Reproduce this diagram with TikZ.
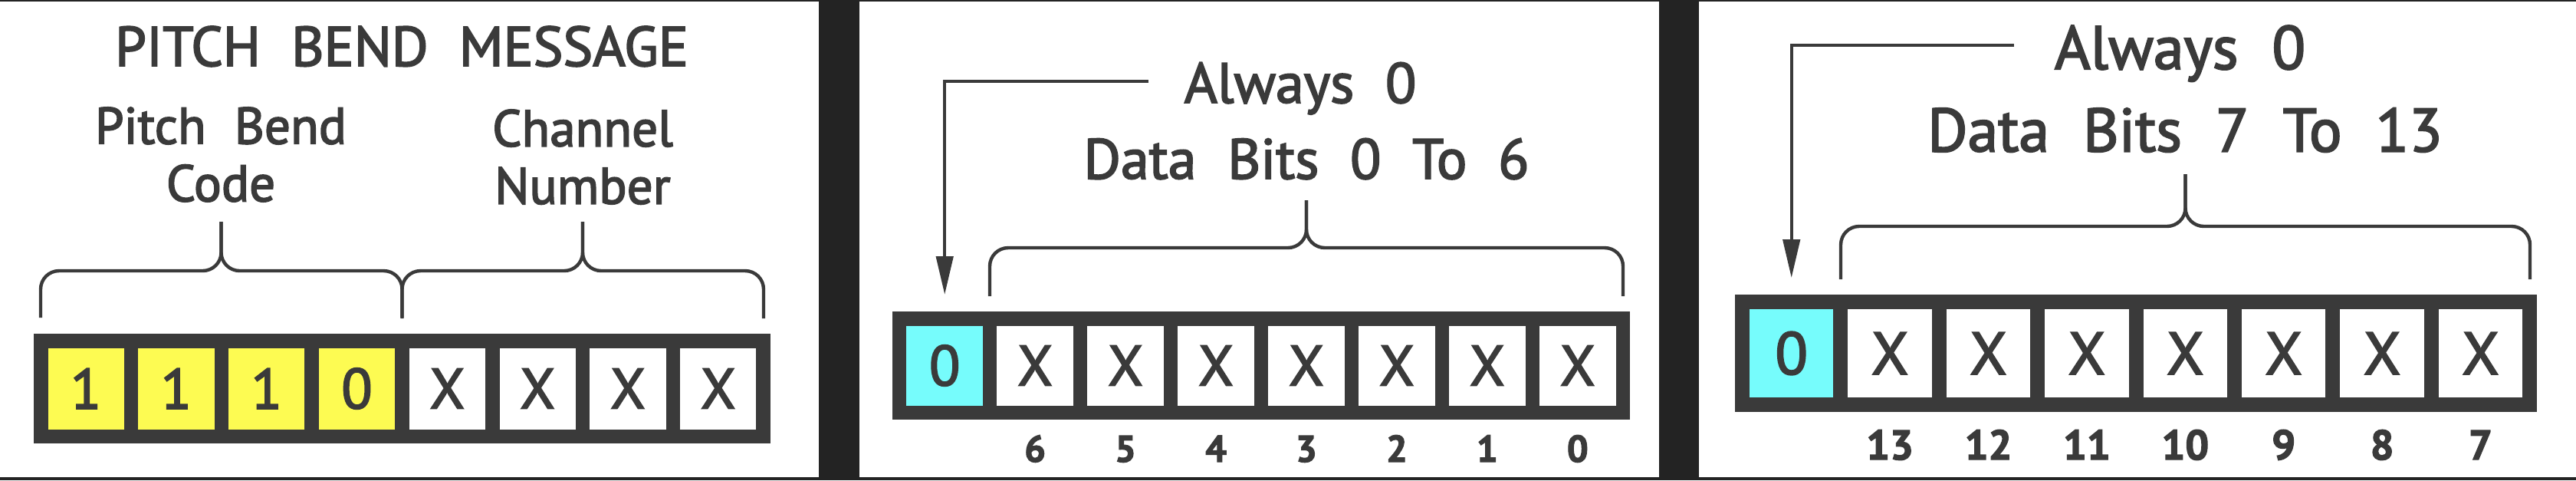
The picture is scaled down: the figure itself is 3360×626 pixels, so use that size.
\documentclass[tikz,border=0pt]{standalone}
\usepackage{fontspec}
\setmainfont{PT Sans}[FakeBold=2.5]
\usetikzlibrary{arrows.meta}

\definecolor{backdrop}{HTML}{232323}
\definecolor{ink}{HTML}{3A3A3A}
\definecolor{codefill}{HTML}{FDFB52}
\definecolor{zerofill}{HTML}{76FCFC}

% lettering: size, line skip, wide word gaps
\newcommand{\lettering}[2]{\fontsize{#1}{#2}\selectfont\spaceskip=0.55em plus 0.1em\relax}
% brace: left x, right x, tip x, leg bottom y, bar y, tip top y
\newcommand{\bitbrace}[6]{%
  \draw[bracket] (#1,#4) -- (#1,#5) -- (#3,#5) -- (#3,#6);
  \draw[bracket] (#3,#6) -- (#3,#5) -- (#2,#5) -- (#2,#4);}

\tikzset{
  lbl/.style={inner sep=0pt, text=ink, anchor=base},
  bitcell/.style={inner sep=0pt, text=ink, fill=white},
  bitno/.style={inner sep=0pt, text=ink, anchor=base},
  bracket/.style={draw=ink, line width=1.1pt, rounded corners=6pt},
  pointer/.style={draw=ink, line width=1.1pt, -{Triangle[length=12.5pt,width=5.5pt]}},
}

\begin{document}
\begin{tikzpicture}[x=0.25pt,y=0.25pt,yscale=-1,xscale=1]

%Shape: backdrop and the three panels
\fill[backdrop] (0,0) rectangle (3360,626);
\fill[white] (0,2) rectangle (1068,622);
\fill[white] (1121,2) rectangle (2164,622);
\fill[white] (2216,2) rectangle (3360,622);

%%%% Panel 1: pitch bend status byte
% Text Node
\node[lbl, font={\lettering{18.25pt}{20pt}}] (title) at (524,86) {PITCH BEND MESSAGE};
% Text Node
\node[lbl, anchor=north, align=center, font={\lettering{16.8pt}{18.75pt}}] (code) at (288,139) {Pitch Bend\\Code};
% Text Node
\node[lbl, anchor=north, align=center, font={\lettering{16.8pt}{18.75pt}}] (chan) at (760,142) {Channel\\Number};
%Shape: byte frame
\fill[ink] (44,435) rectangle (1005,578);
\foreach \k/\v/\f in {1/1/codefill,2/1/codefill,3/1/codefill,4/0/codefill,5/X/white,6/X/white,7/X/white,8/X/white}
  \node[bitcell, fill=\f, minimum width=24.8pt, minimum height=26.5pt, font={\lettering{18.5pt}{20pt}}] (p1c\k) at ({112.15+(\k-1)*117.8},506.5) {\v};
%Curve Lines: braces
\bitbrace{53}{524.5}{288.5}{414}{353}{289}
\bitbrace{524.5}{996}{760}{415}{353}{289}

%%%% Panel 2: first data byte
% Text Node
\node[lbl, font={\lettering{18.5pt}{20pt}}] (always2) at (1696,134) {Always 0};
% Text Node
\node[lbl, font={\lettering{18.5pt}{20pt}}] (bits2) at (1704,233) {Data Bits 0 To 6};
%Shape: byte frame
\fill[ink] (1164,406) rectangle (2126,547);
\foreach \k/\v/\f in {1/0/zerofill,2/X/white,3/X/white,4/X/white,5/X/white,6/X/white,7/X/white,8/X/white}
  \node[bitcell, fill=\f, minimum width=24.86pt, minimum height=26pt, font={\lettering{18.5pt}{20pt}}] (p2c\k) at ({1232.2+(\k-1)*117.94},476.5) {\v};
\foreach \k [evaluate=\k as \b using {int(8-\k)}] in {2,...,8}
  \node[bitno, font={\lettering{12.2pt}{14pt}\bfseries}] (p2n\k) at (p2c\k |- 0,602) {\b};
%Straight Lines: pointer to bit 7
\coordinate (from2) at (1498,106);
\draw[pointer, shorten >=9.9pt] (from2) -| (p2c1.north);
%Curve Lines: brace
\bitbrace{1291}{2117}{1704}{386}{323}{261}

%%%% Panel 3: second data byte
% Text Node
\node[lbl, font={\lettering{20pt}{22pt}}] (always3) at (2843.5,90) {Always 0};
% Text Node
\node[lbl, font={\lettering{20pt}{22pt}}] (bits3) at (2850,197.5) {Data Bits 7 To 13};
%Shape: byte frame
\fill[ink] (2263,384) rectangle (3309,537);
\foreach \k/\v/\f in {1/0/zerofill,2/X/white,3/X/white,4/X/white,5/X/white,6/X/white,7/X/white,8/X/white}
  \node[bitcell, fill=\f, minimum width=27.35pt, minimum height=28.75pt, font={\lettering{19.5pt}{21pt}}] (p3c\k) at ({2336.7+(\k-1)*128.4},460.5) {\v};
\foreach \k [evaluate=\k as \b using {int(15-\k)}] in {2,...,8}
  \node[bitno, font={\lettering{13.6pt}{15pt}\bfseries}] (p3n\k) at (p3c\k |- 0,599) {\b};
%Straight Lines: pointer to bit 7
\coordinate (from3) at (2627,59);
\draw[pointer, shorten >=10pt] (from3) -| (p3c1.north);
%Curve Lines: brace
\bitbrace{2401}{3300}{2850.5}{364}{295}{227}

\end{tikzpicture}
\end{document}
